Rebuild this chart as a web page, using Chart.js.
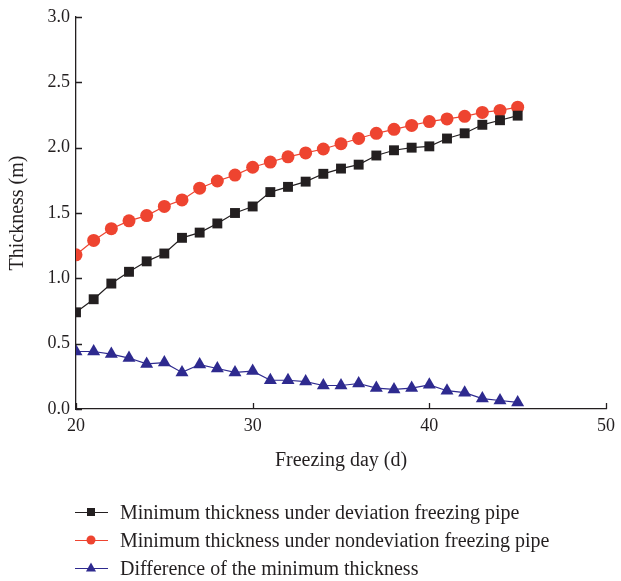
<!DOCTYPE html>
<html>
<head>
<meta charset="utf-8">
<script src="https://cdn.jsdelivr.net/npm/chart.js@4.4.0/dist/chart.umd.min.js"></script>
<style>
  html, body { margin: 0; padding: 0; background: #fff; }
  #wrap { position: relative; width: 621px; height: 581px; }
  #legend { position: absolute; left: 75px; top: 498px; font-family: "Liberation Serif", serif; font-size: 20px; color: #231f20; }
  .item { display: flex; align-items: center; height: 28px; }
  .item svg { margin-right: 12px; }
</style>
</head>
<body>
<div id="wrap">
  <canvas id="c" width="621" height="581"></canvas>
  <div id="legend"></div>
</div>
<script>
const days = [20,21,22,23,24,25,26,27,28,29,30,31,32,33,34,35,36,37,38,39,40,41,42,43,44,45];
const deviation = [0.74,0.84,0.96,1.05,1.13,1.19,1.31,1.35,1.42,1.50,1.55,1.66,1.70,1.74,1.80,1.84,1.87,1.94,1.98,2.00,2.01,2.07,2.11,2.175,2.21,2.245];
const nondeviation = [1.18,1.29,1.38,1.44,1.48,1.55,1.60,1.69,1.745,1.79,1.85,1.89,1.93,1.96,1.99,2.03,2.07,2.11,2.14,2.17,2.20,2.22,2.24,2.27,2.285,2.31];
const difference = [0.44,0.44,0.42,0.39,0.345,0.355,0.28,0.34,0.31,0.28,0.29,0.22,0.22,0.21,0.18,0.18,0.195,0.16,0.15,0.16,0.185,0.14,0.125,0.08,0.065,0.05];
const seriesNames = ['Minimum thickness under deviation freezing pipe','Minimum thickness under nondeviation freezing pipe','Difference of the minimum thickness'];
const xTicks = [20,30,40,50];
const yTicks = [0,0.5,1.0,1.5,2.0,2.5,3.0];

const colors = ['#231f20', '#ee4430', '#2e2a8f'];
const styles = ['rect', 'circle', 'triangle'];
const radii = [7, 6.5, 7.5];
const seriesData = [deviation, nondeviation, difference];

const datasets = seriesData.map((vals, i) => ({
  label: seriesNames[i],
  data: days.map((d, k) => ({x: d, y: vals[k]})),
  borderColor: colors[i],
  backgroundColor: colors[i],
  pointBackgroundColor: colors[i],
  pointBorderColor: colors[i],
  pointBorderWidth: 0,
  pointStyle: styles[i],
  pointRadius: radii[i],
  borderWidth: 1.2,
  tension: 0
}));

const axisColor = '#231f20';
const tickFont = {family: '"Liberation Serif", serif', size: 18};
const titleFont = {family: '"Liberation Serif", serif', size: 20};

const insideTicks = {
  id: 'insideTicks',
  afterDraw(chart) {
    const ctx = chart.ctx;
    const xs = chart.scales.x, ys = chart.scales.y;
    ctx.save();
    ctx.strokeStyle = axisColor;
    ctx.lineWidth = 1.3;
    ctx.beginPath();
    xTicks.forEach(v => {
      const px = Math.round(xs.getPixelForValue(v)) + 0.5;
      ctx.moveTo(px, ys.bottom);
      ctx.lineTo(px, ys.bottom - 6);
    });
    yTicks.forEach(v => {
      const py = Math.round(ys.getPixelForValue(v)) + 0.5;
      ctx.moveTo(xs.left, py);
      ctx.lineTo(xs.left + 6, py);
    });
    ctx.stroke();
    ctx.restore();
  }
};

new Chart(document.getElementById('c'), {
  type: 'line',
  data: { datasets },
  options: {
    responsive: false,
    animation: false,
    layout: { padding: { left: 0, right: 13, top: 17, bottom: 108 } },
    plugins: { legend: { display: false }, tooltip: { enabled: false } },
    scales: {
      x: {
        type: 'linear', min: 20, max: 50,
        afterBuildTicks(s) { s.ticks = xTicks.map(v => ({value: v})); },
        afterFit(s) { s.height = 64; },
        grid: { display: false, drawTicks: false },
        border: { display: true, color: axisColor, width: 1.3 },
        ticks: { color: axisColor, font: tickFont, padding: 6, maxRotation: 0 },
        title: { display: true, text: 'Freezing day (d)', color: axisColor, font: titleFont, padding: 0 }
      },
      y: {
        type: 'linear', min: 0, max: 3,
        afterBuildTicks(s) { s.ticks = yTicks.map(v => ({value: v})); },
        afterFit(s) { s.width = 76; },
        grid: { display: false, drawTicks: false },
        border: { display: true, color: axisColor, width: 1.3 },
        ticks: { color: axisColor, font: tickFont, padding: 6, callback: v => Number(v).toFixed(1) },
        title: { display: true, text: 'Thickness (m)', color: axisColor, font: titleFont, padding: { top: 6, bottom: 0 } }
      }
    }
  },
  plugins: [insideTicks]
});

// HTML legend built from the dataset styles
const legend = document.getElementById('legend');
datasets.forEach((ds, i) => {
  const item = document.createElement('div');
  item.className = 'item';
  let marker;
  if (ds.pointStyle === 'rect') marker = `<rect x="12" y="3" width="8" height="8" fill="${ds.borderColor}"/>`;
  else if (ds.pointStyle === 'circle') marker = `<circle cx="16" cy="7" r="4.5" fill="${ds.borderColor}"/>`;
  else marker = `<polygon points="16,1.5 21,10.5 11,10.5" fill="${ds.borderColor}"/>`;
  item.innerHTML = `<svg width="33" height="14"><line x1="0" y1="7.5" x2="33" y2="7.5" stroke="${ds.borderColor}" stroke-width="1.2"/>${marker}</svg><span>${ds.label}</span>`;
  legend.appendChild(item);
});
</script>
</body>
</html>
